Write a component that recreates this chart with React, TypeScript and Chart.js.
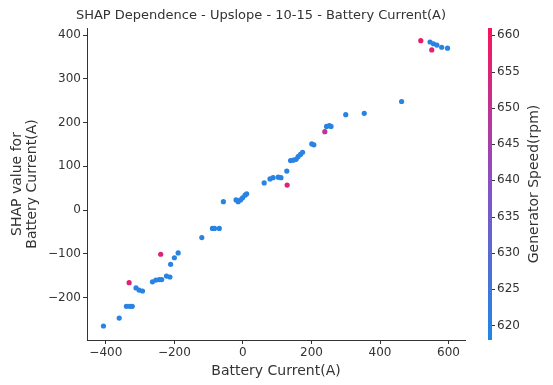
import React, { useEffect, useRef } from 'react';
import { Chart, registerables } from 'chart.js';

Chart.register(...registerables);

const batteryCurrent = [
  -407, -361, -340, -330, -323, -332, -312, -303, -293, -264, -254, -244, -237, -240,
  -223, -213, -211, -200, -189, -120, -89, -83, -69, -57, -20, -14, -7, -1, 6, 11,
  62, 79, 88, 103, 111, 129, 128, 139, 147, 155, 161, 168, 174, 201, 207, 239, 244,
  252, 257, 300, 354, 463, 519, 546, 556, 566, 551, 580, 597,
];
const shapValue = [
  -265, -247, -220, -220, -220, -166, -178, -183, -185, -164, -160, -159, -159, -101,
  -151, -153, -124, -109, -98, -63, -42, -42, -42, 19, 23, 19, 23, 28, 34, 37,
  62, 71, 74, 75, 74, 57, 89, 113, 114, 116, 122, 127, 132, 151, 149, 179, 191,
  193, 191, 218, 221, 248, 387, 384, 380, 377, 366, 372, 370,
];
const generatorSpeed = [
  620, 620, 620, 620, 620, 656, 620, 620, 620, 620, 620, 620, 620, 656,
  620, 620, 620, 620, 620, 620, 620, 620, 620, 620, 620, 620, 620, 620, 620, 620,
  620, 620, 620, 620, 620, 655, 620, 620, 620, 620, 620, 620, 620, 620, 620, 650, 620,
  620, 620, 620, 620, 620, 658, 620, 620, 620, 656, 620, 620,
];

const xTicks = [-400, -200, 0, 200, 400, 600];
const yTicks = [-200, -100, 0, 100, 200, 300, 400];
const cbTicks = [620, 625, 630, 635, 640, 645, 650, 655, 660];
const xRange = [-455, 648];
const yRange = [-297, 416];
const cbRange = [618, 661];

const titleText = 'SHAP Dependence - Upslope - 10-15 - Battery Current(A)';
const xTitle = 'Battery Current(A)';
const yTitle = ['SHAP value for', 'Battery Current(A)'];
const cbTitle = 'Generator Speed(rpm)';

const FONT = "'DejaVu Sans', sans-serif";
const TEXT = '#333333';

const stops: [number, number[]][] = [
  [0, [30, 136, 229]],
  [0.5, [136, 80, 196]],
  [1, [250, 20, 90]],
];

function cmap(t: number): string {
  t = Math.max(0, Math.min(1, t));
  for (let i = 0; i < stops.length - 1; i++) {
    const [a, ca] = stops[i];
    const [b, cb] = stops[i + 1];
    if (t <= b) {
      const f = (t - a) / (b - a);
      const c = ca.map((v, k) => Math.round(v + (cb[k] - v) * f));
      return `rgb(${c[0]},${c[1]},${c[2]})`;
    }
  }
  const c = stops[stops.length - 1][1];
  return `rgb(${c[0]},${c[1]},${c[2]})`;
}

function speedColor(v: number): string {
  return cmap((v - cbRange[0]) / (cbRange[1] - cbRange[0]));
}

const fmt = (v: any) => (v < 0 ? '\u2212' + Math.abs(v) : String(v));

const decorPlugin = {
  id: 'decor',
  afterDraw(chart: any) {
    const { ctx, chartArea } = chart;
    const top = chartArea.top;
    const bottom = chartArea.bottom;
    ctx.save();
    // title
    ctx.fillStyle = TEXT;
    ctx.font = `13px ${FONT}`;
    ctx.textAlign = 'center';
    ctx.textBaseline = 'middle';
    ctx.fillText(titleText, 261, 16);
    // colorbar
    const x0 = 488;
    const w = 4;
    const grad = ctx.createLinearGradient(0, bottom, 0, top);
    stops.forEach(([p, c]) => grad.addColorStop(p, `rgb(${c[0]},${c[1]},${c[2]})`));
    ctx.fillStyle = grad;
    ctx.fillRect(x0, top, w, bottom - top);
    ctx.strokeStyle = TEXT;
    ctx.lineWidth = 1;
    ctx.fillStyle = TEXT;
    ctx.font = `12px ${FONT}`;
    ctx.textAlign = 'left';
    cbTicks.forEach((v) => {
      const y = bottom - ((v - cbRange[0]) / (cbRange[1] - cbRange[0])) * (bottom - top);
      ctx.beginPath();
      ctx.moveTo(x0 + w, Math.round(y) + 0.5);
      ctx.lineTo(x0 + w + 3, Math.round(y) + 0.5);
      ctx.stroke();
      ctx.fillText(String(v), x0 + w + 5, y);
    });
    ctx.translate(534, (top + bottom) / 2);
    ctx.rotate(-Math.PI / 2);
    ctx.textAlign = 'center';
    ctx.font = `14px ${FONT}`;
    ctx.fillText(cbTitle, 0, 0);
    ctx.restore();
  },
};

export default function App() {
  const ref = useRef<HTMLCanvasElement | null>(null);
  useEffect(() => {
    document.body.style.margin = '0';
    const canvas = ref.current;
    if (!canvas) return;
    const points = batteryCurrent.map((x, i) => ({ x, y: shapValue[i] }));
    const colors = generatorSpeed.map(speedColor);
    const chart = new Chart(canvas, {
      type: 'scatter',
      data: {
        datasets: [
          {
            data: points,
            backgroundColor: colors,
            borderColor: colors,
            borderWidth: 0,
            pointRadius: 2.6,
          },
        ],
      },
      options: {
        animation: false,
        responsive: false,
        maintainAspectRatio: false,
        layout: { padding: { left: 0, right: 88, top: 28, bottom: 0 } },
        plugins: {
          legend: { display: false },
          tooltip: { enabled: false },
          title: { display: false },
        },
        scales: {
          x: {
            type: 'linear',
            min: xRange[0],
            max: xRange[1],
            afterBuildTicks: (s: any) => {
              s.ticks = xTicks.map((v) => ({ value: v }));
            },
            afterFit: (s: any) => {
              s.height = 45;
            },
            grid: { display: true, drawOnChartArea: false, drawTicks: true, tickLength: 4, color: TEXT },
            border: { display: true, color: TEXT },
            ticks: {
              color: TEXT,
              font: { family: FONT, size: 12 },
              padding: 2,
              maxRotation: 0,
              callback: fmt,
            },
            title: {
              display: true,
              text: xTitle,
              color: TEXT,
              font: { family: FONT, size: 14, lineHeight: 1.07 },
              padding: { top: 2, bottom: 6.5 },
            },
          },
          y: {
            type: 'linear',
            min: yRange[0],
            max: yRange[1],
            afterBuildTicks: (s: any) => {
              s.ticks = yTicks.map((v) => ({ value: v }));
            },
            afterFit: (s: any) => {
              s.width = 87;
            },
            grid: { display: true, drawOnChartArea: false, drawTicks: true, tickLength: 4, color: TEXT },
            border: { display: true, color: TEXT },
            ticks: {
              color: TEXT,
              font: { family: FONT, size: 12 },
              padding: 2,
              callback: fmt,
            },
            title: {
              display: true,
              text: yTitle,
              color: TEXT,
              font: { family: FONT, size: 14, lineHeight: 1.07 },
              padding: { top: 9.5, bottom: 0 },
            },
          },
        },
      },
      plugins: [decorPlugin],
    } as any);
    return () => chart.destroy();
  }, []);
  return (
    <div style={{ position: 'relative', width: 553, height: 385 }}>
      <canvas ref={ref} width={553} height={385} style={{ width: 553, height: 385, display: 'block' }} />
    </div>
  );
}
